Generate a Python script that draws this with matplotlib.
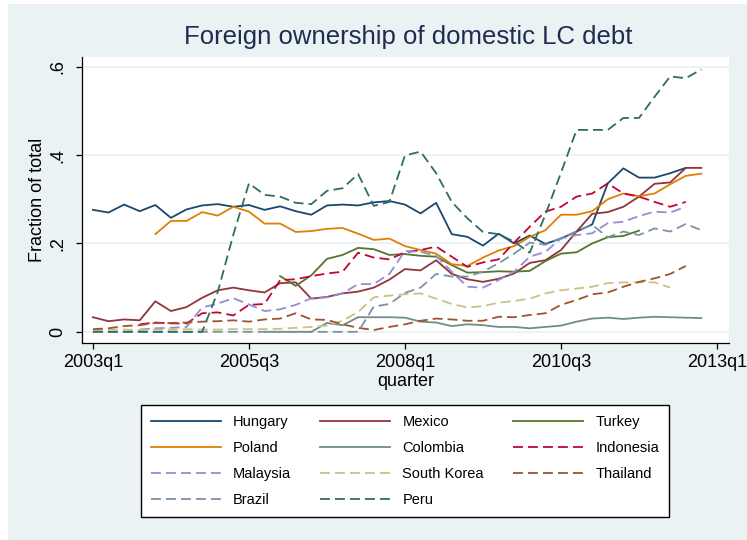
import matplotlib
matplotlib.use("Agg")
import matplotlib.pyplot as plt
import numpy as np
from matplotlib.patches import Rectangle

plt.rcParams["font.family"] = ["Liberation Sans", "DejaVu Sans"]

NA = np.nan

# quarters since 2003q1 (0 = 2003q1 ... 39 = 2012q4)
quarter_idx = list(range(40))
tick_pos = [0, 10, 20, 30, 40]
tick_labels = ["2003q1", "2005q3", "2008q1", "2010q3", "2013q1"]
ytick_pos = [0, 0.2, 0.4, 0.6]
ytick_labels = ["0", ".2", ".4", ".6"]

hungary = [0.276, 0.270, 0.288, 0.273, 0.287, 0.258, 0.277, 0.286, 0.289, 0.283,
           0.287, 0.276, 0.284, 0.273, 0.265, 0.286, 0.288, 0.286, 0.293, 0.296,
           0.288, 0.268, 0.292, 0.221, 0.215, 0.195, 0.222, 0.200, 0.218, 0.199,
           0.211, 0.227, 0.243, 0.336, 0.370, 0.349, 0.349, 0.359, 0.371, NA]
mexico = [0.033, 0.024, 0.028, 0.026, 0.069, 0.047, 0.056, 0.077, 0.094, 0.100,
          0.094, 0.089, 0.110, 0.112, 0.075, 0.079, 0.087, 0.091, 0.100, 0.118,
          0.142, 0.139, 0.162, 0.131, 0.119, 0.113, 0.120, 0.132, 0.156, 0.162,
          0.185, 0.227, 0.267, 0.271, 0.283, 0.306, 0.335, 0.338, 0.371, 0.371]
turkey = [NA] * 12 + [0.126, 0.104, 0.128, 0.165, 0.174, 0.190, 0.187, 0.174,
                      0.176, 0.172, 0.170, 0.151, 0.134, 0.135, 0.137, 0.136,
                      0.138, 0.160, 0.177, 0.180, 0.200, 0.214, 0.217, 0.229] + [NA] * 4
poland = [NA] * 4 + [0.221, 0.251, 0.251, 0.271, 0.263, 0.283, 0.272, 0.245, 0.245,
                     0.226, 0.228, 0.233, 0.235, 0.222, 0.208, 0.211, 0.194, 0.185,
                     0.177, 0.153, 0.149, 0.168, 0.184, 0.194, 0.215, 0.230, 0.265,
                     0.265, 0.273, 0.300, 0.313, 0.307, 0.313, 0.334, 0.353, 0.358]
colombia = [NA] * 11 + [0.000, 0.000, 0.000, 0.000, 0.020, 0.015, 0.033, 0.033,
                        0.033, 0.032, 0.023, 0.021, 0.013, 0.017, 0.015, 0.011,
                        0.011, 0.008, 0.011, 0.014, 0.023, 0.030, 0.032, 0.029,
                        0.032, 0.034, 0.033, 0.032, 0.031]
indonesia = [NA] * 3 + [0.017, 0.021, 0.019, 0.019, 0.042, 0.044, 0.037, 0.061, 0.063,
                        0.117, 0.119, 0.126, 0.132, 0.136, 0.179, 0.168, 0.164, 0.180,
                        0.185, 0.193, 0.170, 0.147, 0.157, 0.164, 0.202, 0.238, 0.272,
                        0.283, 0.306, 0.313, 0.336, 0.313, 0.306, 0.294, 0.283, 0.294] + [NA]
malaysia = [NA] * 3 + [0.005, 0.008, 0.009, 0.011, 0.055, 0.064, 0.076, 0.062, 0.047,
                       0.051, 0.061, 0.076, 0.078, 0.087, 0.108, 0.108, 0.131, 0.183,
                       0.181, 0.172, 0.136, 0.102, 0.100, 0.117, 0.136, 0.170, 0.181,
                       0.211, 0.219, 0.223, 0.246, 0.249, 0.262, 0.272, 0.270, 0.283] + [NA]
south_korea = [0.004, 0.005, 0.005, 0.004, 0.005, 0.005, 0.006, 0.005, 0.005, 0.006,
               0.006, 0.006, 0.007, 0.009, 0.011, 0.014, 0.025, 0.045, 0.078, 0.082,
               0.085, 0.087, 0.075, 0.063, 0.055, 0.058, 0.066, 0.070, 0.075, 0.087,
               0.094, 0.098, 0.102, 0.110, 0.112, 0.112, 0.112, 0.100, NA, NA]
thailand = [0.006, 0.008, 0.013, 0.015, 0.020, 0.020, 0.021, 0.023, 0.024, 0.026,
            0.023, 0.028, 0.030, 0.042, 0.028, 0.027, 0.017, 0.009, 0.004, 0.011,
            0.017, 0.025, 0.030, 0.028, 0.025, 0.025, 0.034, 0.033, 0.038, 0.042,
            0.061, 0.072, 0.085, 0.089, 0.102, 0.113, 0.121, 0.131, 0.149, NA]
brazil = [0.000, 0.000, 0.000, 0.000, 0.000, 0.000, 0.000, 0.000, 0.000, 0.000,
          0.000, 0.000, 0.000, 0.000, 0.000, 0.000, 0.000, 0.000, 0.057, 0.063,
          0.088, 0.100, 0.131, 0.125, 0.125, 0.136, 0.155, 0.177, 0.202, 0.197,
          0.212, 0.227, 0.242, 0.214, 0.227, 0.219, 0.234, 0.227, 0.244, 0.230]
peru = [0.000, 0.000, 0.000, 0.000, 0.000, 0.000, 0.000, 0.000, 0.090, 0.220,
        0.336, 0.310, 0.306, 0.292, 0.289, 0.319, 0.325, 0.357, 0.285, 0.294,
        0.399, 0.408, 0.359, 0.294, 0.257, 0.226, 0.221, 0.204, 0.179, 0.265,
        0.360, 0.457, 0.457, 0.457, 0.484, 0.484, 0.532, 0.578, 0.574, 0.594]

countries = ["Hungary", "Mexico", "Turkey", "Poland", "Colombia", "Indonesia",
             "Malaysia", "South Korea", "Thailand", "Brazil", "Peru"]
series = [hungary, mexico, turkey, poland, colombia, indonesia,
          malaysia, south_korea, thailand, brazil, peru]
colors = ["#1a476f", "#90353b", "#55752f", "#e37e00", "#6e8e84", "#c10534",
          "#938dd2", "#cac27e", "#a0522d", "#7b92a8", "#2d6d66"]
dashed = [False, False, False, False, False, True, True, True, True, True, True]

W, H = 747, 540
fig = plt.figure(figsize=(W / 100, H / 100), dpi=100, facecolor="white")
fig.patches.append(Rectangle((8 / W, 0), 1 - 8 / W, 1 - 4 / H, transform=fig.transFigure,
                             facecolor="#eaf2f3", edgecolor="none", zorder=-10))

ax = fig.add_axes([82 / W, 1 - 343.3 / H, (729 - 82) / W, (343.3 - 57) / H])
ax.set_facecolor("white")

handles = []
for name, vals, col, dsh in zip(countries, series, colors, dashed):
    ls = (0, (5.5, 2.8)) if dsh else "-"
    (h,) = ax.plot(quarter_idx, vals, color=col, lw=1.3, linestyle=ls, label=name)
    handles.append(h)

ax.set_xlim(-0.7, 40.77)
ax.set_ylim(-0.026, 0.622)
ax.set_xticks(tick_pos)
ax.set_xticklabels(tick_labels)
ax.set_yticks(ytick_pos)
ax.set_yticklabels(ytick_labels, rotation=90, va="center")
ax.tick_params(axis="x", length=4.5, width=0.9, labelsize=13, pad=3)
ax.tick_params(axis="y", length=4.5, width=0.9, labelsize=13, pad=6.5)
ax.grid(axis="y", color="#eaf2f3", lw=1.3)
ax.set_axisbelow(True)
for side in ["top", "right"]:
    ax.spines[side].set_visible(False)
for side in ["left", "bottom"]:
    ax.spines[side].set_linewidth(0.9)
ax.set_xlabel("quarter", fontsize=13, labelpad=1.5)
ax.set_ylabel("Fraction of total", fontsize=13, labelpad=2.5)

fig.text(408 / W, 1 - 37 / H, "Foreign ownership of domestic LC debt",
         ha="center", va="center", fontsize=18.5, color="#1e2d50")

# legend filled row-wise like the original
order = [0, 3, 6, 9, 1, 4, 7, 10, 2, 5, 8]
leg = fig.legend([handles[i] for i in order], [countries[i] for i in order],
                 ncol=3, loc="center", mode="expand",
                 bbox_to_anchor=(141 / W, 1 - 517 / H, 528 / W, 112 / H),
                 fontsize=10.5, handlelength=4.8, handletextpad=0.82,
                 labelspacing=0.83, borderpad=0.69, borderaxespad=0,
                 fancybox=False, frameon=True)
leg.get_frame().set_edgecolor("black")
leg.get_frame().set_linewidth(1.0)
leg.get_frame().set_facecolor("white")
leg.get_frame().set_alpha(1)

fig.savefig("out.png", dpi=100, facecolor=fig.get_facecolor())
